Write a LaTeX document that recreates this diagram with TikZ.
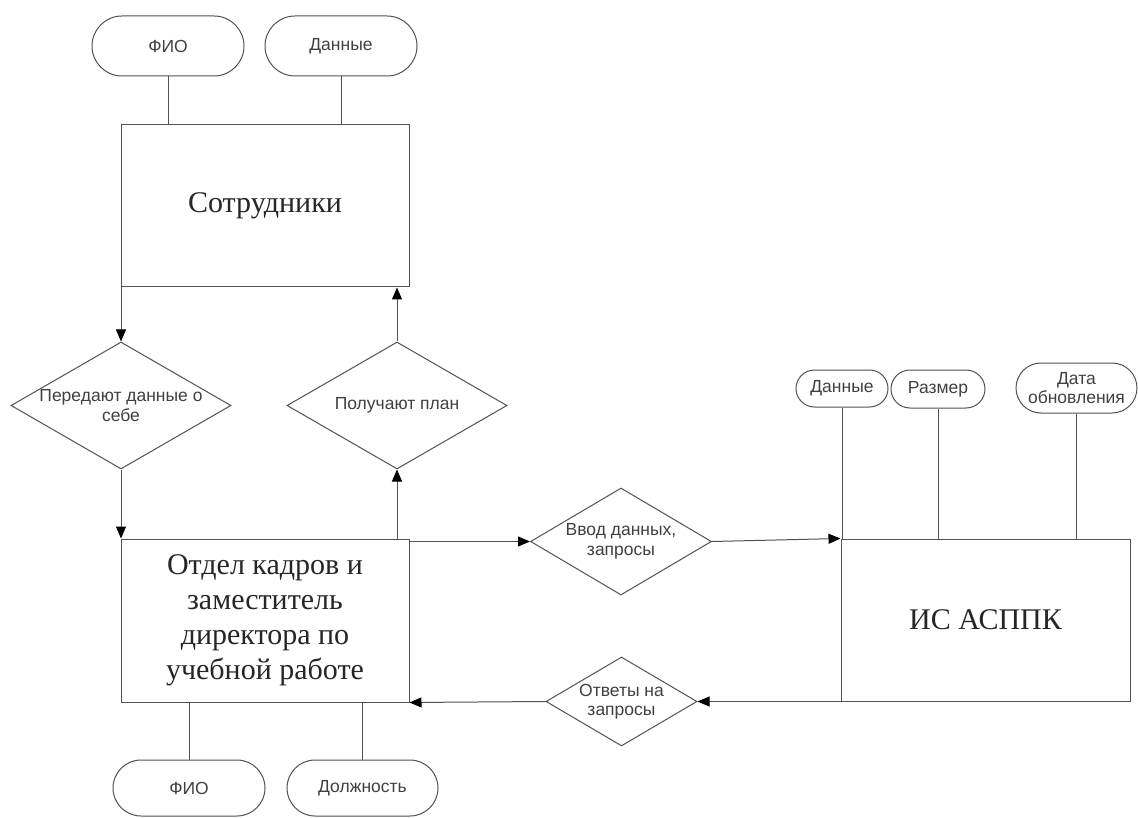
\documentclass[tikz,border=0pt]{standalone}
\usepackage{fontspec}
\setmainfont{Liberation Serif}
\newfontfamily\labelsans{Liberation Sans}
\usetikzlibrary{shapes.geometric,shapes.misc,arrows.meta,calc}

\begin{document}
\begin{tikzpicture}[x=1pt,y=-1pt,
  line/.style={draw=black!68, line width=1pt},
  flow/.style={line, -{Triangle[length=12pt,width=10pt,color=black]}},
  entity/.style={line, rectangle, inner sep=0pt, align=center,
    font=\fontsize{30}{35}\selectfont, text=black!85},
  attr/.style={line, rounded rectangle, inner sep=0pt, align=center,
    font=\labelsans\fontsize{17.5}{19}\selectfont, text=black!75},
  relation/.style={line, diamond, inner sep=0pt},
  reltext/.style={align=center, inner sep=0pt,
    font=\labelsans\fontsize{17.5}{19.5}\selectfont, text=black!75}]

  % canvas
  \fill[white] (0,0) rectangle (1138,818);
  \useasboundingbox (0,0) rectangle (1138,818);

  % entities
  \node[entity, minimum width=288, minimum height=162] (sotr) at (265,206) {Сотрудники};
  \node[entity, minimum width=288, minimum height=163] (otdel) at (265,620.5)
    {Отдел кадров и\\заместитель\\директора по\\учебной работе};
  \node[entity, minimum width=289, minimum height=162] (is) at (985.5,620) {ИС АСППК};

  % attributes
  \node[attr, minimum width=152, minimum height=60] (fio1) at (168,46) {ФИО};
  \node[attr, minimum width=152, minimum height=60] (dan1) at (341,46) {Данные};
  \node[attr, minimum width=152, minimum height=56] (fio2) at (189,788) {ФИО};
  \node[attr, minimum width=151, minimum height=56] (dol) at (362.5,788) {Должность};
  \node[attr, minimum width=92, minimum height=37] (dan2) at (842,388.5) {Данные};
  \node[attr, minimum width=94, minimum height=38] (razm) at (938,389) {Размер};
  \node[attr, minimum width=121, minimum height=50] (data) at (1076.5,388) {Дата\\обновления};

  % relationships
  \node[relation, minimum width=220, minimum height=127] (dia1) at (121,405.5) {};
  \node[reltext] (t1) at (dia1) {Передают данные о\\себе};
  \node[relation, minimum width=220, minimum height=127] (dia2) at (397,405.5) {};
  \node[reltext] (t2) at (dia2) {Получают план};
  \node[relation, minimum width=181, minimum height=107] (dia3) at (621,541.5) {};
  \node[reltext] (t3) at (dia3) {Ввод данных,\\запросы};
  \node[relation, minimum width=151, minimum height=89] (dia4) at (621.5,701.5) {};
  \node[reltext] (t4) at (dia4) {Ответы на\\запросы};

  % attribute links
  \draw[line] (fio1.south) -- (fio1.south |- sotr.north);
  \draw[line] (dan1.south) -- (dan1.south |- sotr.north);
  \draw[line] (fio2.north |- otdel.south) -- (fio2.north);
  \draw[line] (dol.north |- otdel.south) -- (dol.north);
  \draw[line] (dan2.south) -- (dan2.south |- is.north);
  \draw[line] (razm.south) -- (razm.south |- is.north);
  \draw[line] (data.south) -- (data.south |- is.north);

  % flows
  \draw[flow] (dia1.north |- sotr.south) -- (dia1.north);
  \draw[flow] (dia1.south) -- (dia1.south |- otdel.north);
  \draw[flow] (dia2.south |- otdel.north) -- (dia2.south);
  \draw[flow] (dia2.north) -- (dia2.north |- sotr.south);
  \draw[flow] (dia3.west -| otdel.east) -- (dia3.west);
  \draw[flow] (dia3.east) -- (is.north west);
  \draw[flow] (is.south west) -- (dia4.east);
  \draw[flow] (dia4.west) -- (otdel.south east);
\end{tikzpicture}
\end{document}
